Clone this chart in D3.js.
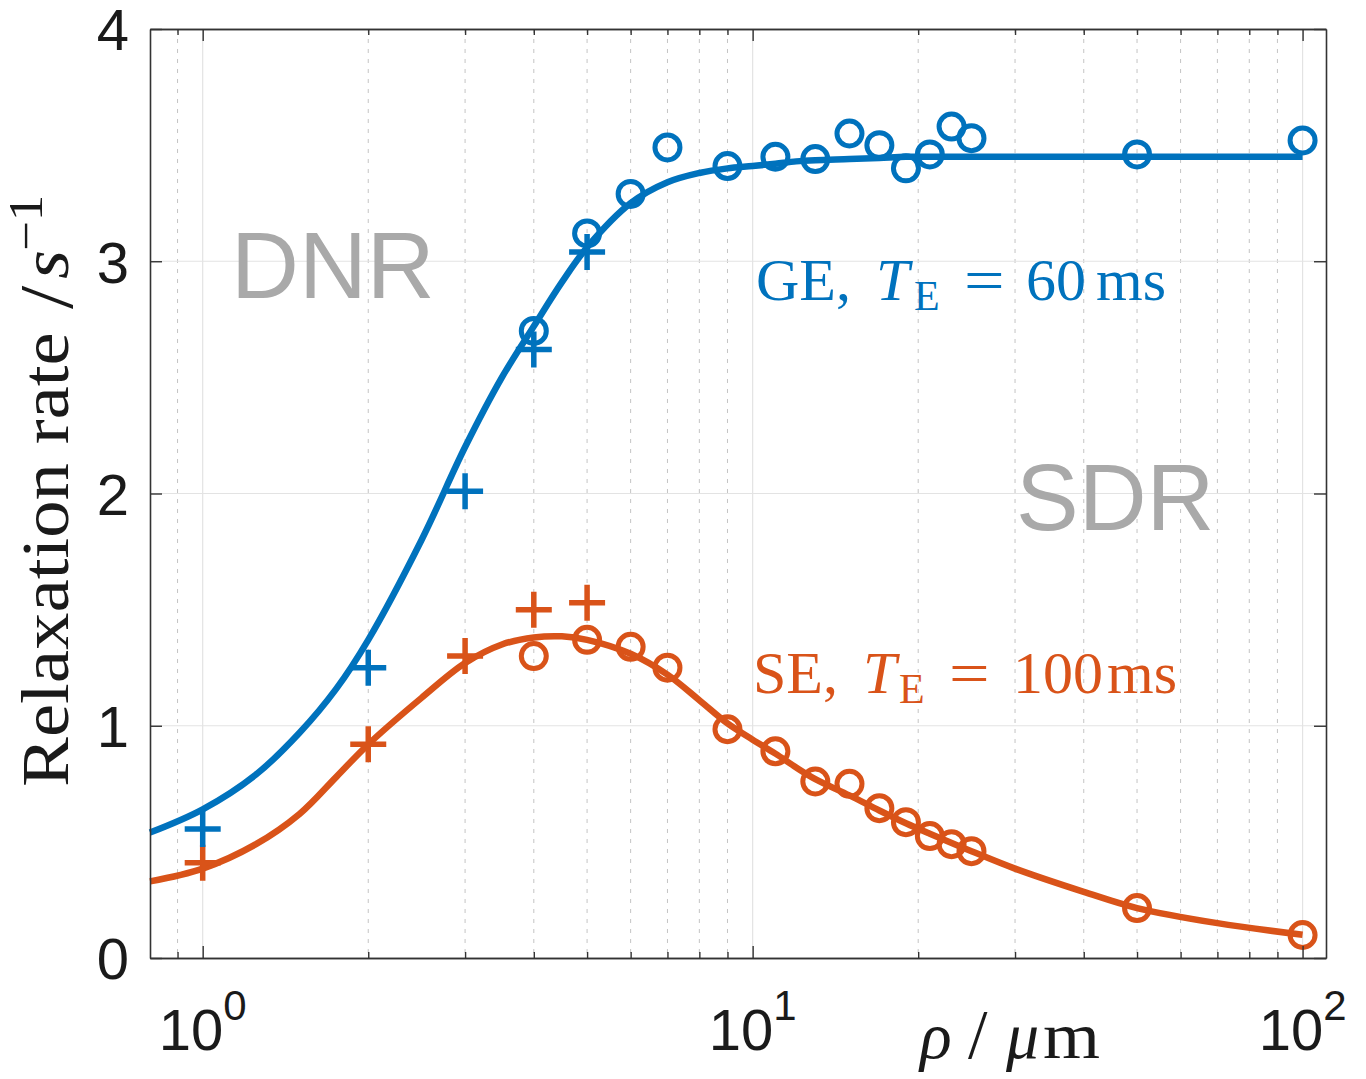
<!DOCTYPE html>
<html lang="en">
<head>
<meta charset="utf-8">
<title>Relaxation rate vs rho</title>
<script src="https://d3js.org/d3.v7.min.js"></script>
<style>
  body { margin: 0; background: #fff; }
  text { font-family: "Liberation Sans", Arial, sans-serif; }
  .serif { font-family: "Liberation Serif", "DejaVu Serif", serif; }
</style>
</head>
<body>
<svg id="chart" width="1366" height="1079"></svg>
<script>
// measured points (circles)
var rhoMeas = [4, 5, 6, 7, 9, 11, 13, 15, 17, 19, 21, 23, 25, 50, 100];
var measGE = [2.70, 3.12, 3.29, 3.49, 3.41, 3.45, 3.44, 3.55, 3.50, 3.40, 3.46, 3.58, 3.53, 3.46, 3.52];
var measSE = [1.30, 1.37, 1.34, 1.25, 0.985, 0.89, 0.76, 0.75, 0.645, 0.585, 0.525, 0.49, 0.46, 0.215, 0.099];

// simulated points (plus)
var rhoSim = [1, 2, 3, 4, 5];
var simGE = [0.555, 1.25, 2.01, 2.62, 3.04];
var simSE = [0.41, 0.92, 1.30, 1.50, 1.53];

// fitted model curves
var rhoFit = [0.802, 1, 1.25, 1.5, 1.75, 2, 2.5, 3, 3.5, 4, 4.5, 5, 6, 7, 8, 9, 10, 11, 12, 13, 15, 17, 19, 21, 25, 30, 40, 50, 70, 100];
var fitGE = [0.54, 0.64, 0.79, 0.97, 1.16, 1.37, 1.80, 2.20, 2.50, 2.72, 2.91, 3.06, 3.25, 3.34, 3.38, 3.40, 3.41, 3.42, 3.43, 3.435, 3.44, 3.445, 3.45, 3.45, 3.45, 3.45, 3.45, 3.45, 3.45, 3.45];
var fitSE = [0.33, 0.385, 0.49, 0.62, 0.78, 0.92, 1.12, 1.27, 1.35, 1.38, 1.385, 1.37, 1.31, 1.22, 1.11, 1.01, 0.94, 0.88, 0.82, 0.77, 0.70, 0.635, 0.58, 0.535, 0.46, 0.385, 0.285, 0.215, 0.15, 0.10];

var yTicks = [0, 1, 2, 3, 4];
var xMajor = [1, 10, 100];
var xMinor = [0.9, 2, 3, 4, 5, 6, 7, 8, 9, 20, 30, 40, 50, 60, 70, 80, 90];

var blue = "#0072BD", orange = "#D95319";
var L = 150, R = 1326, T = 29, B = 958;

var svg = d3.select("#chart");
var x = d3.scaleLog().domain([0.802, 110.3]).range([L, R]);
var y = d3.scaleLinear().domain([0, 4]).range([B, T]);

// grid
var grid = svg.append("g");
grid.selectAll("line.minor").data(xMinor).enter().append("line")
    .attr("x1", function(d) { return x(d); }).attr("x2", function(d) { return x(d); })
    .attr("y1", T).attr("y2", B)
    .attr("stroke", "#c4c4c4").attr("stroke-width", 1).attr("stroke-dasharray", "4,6");
grid.selectAll("line.xmaj").data(xMajor).enter().append("line")
    .attr("x1", function(d) { return x(d); }).attr("x2", function(d) { return x(d); })
    .attr("y1", T).attr("y2", B)
    .attr("stroke", "#e3e3e3").attr("stroke-width", 1.2);
grid.selectAll("line.ymaj").data(yTicks.slice(1, 4)).enter().append("line")
    .attr("x1", L).attr("x2", R)
    .attr("y1", function(d) { return y(d); }).attr("y2", function(d) { return y(d); })
    .attr("stroke", "#e3e3e3").attr("stroke-width", 1.2);

// region labels
svg.append("text").attr("x", 231).attr("y", 298).attr("font-size", 94)
    .attr("fill", "#a9a9a9").text("DNR");
svg.append("text").attr("x", 1016).attr("y", 530).attr("font-size", 94)
    .attr("fill", "#a9a9a9").text("SDR");

// fitted curves
var line = d3.line()
    .x(function(d) { return x(d[0]); })
    .y(function(d) { return y(d[1]); })
    .curve(d3.curveCatmullRom.alpha(0.5));

svg.append("path").datum(d3.zip(rhoFit, fitGE)).attr("d", line)
    .attr("fill", "none").attr("stroke", blue).attr("stroke-width", 6.5);
svg.append("path").datum(d3.zip(rhoFit, fitSE)).attr("d", line)
    .attr("fill", "none").attr("stroke", orange).attr("stroke-width", 6.5);

// markers
function circles(vals, col) {
    svg.append("g").selectAll("circle").data(d3.zip(rhoMeas, vals)).enter().append("circle")
        .attr("cx", function(d) { return x(d[0]); })
        .attr("cy", function(d) { return y(d[1]); })
        .attr("r", 12.5)
        .attr("fill", "none").attr("stroke", col).attr("stroke-width", 5);
}
function pluses(vals, col) {
    svg.append("g").selectAll("path").data(d3.zip(rhoSim, vals)).enter().append("path")
        .attr("transform", function(d) { return "translate(" + x(d[0]) + "," + y(d[1]) + ")"; })
        .attr("d", "M-18,0H18M0,-18V18")
        .attr("fill", "none").attr("stroke", col).attr("stroke-width", 5.5);
}
pluses(simSE, orange);
pluses(simGE, blue);
circles(measSE, orange);
circles(measGE, blue);

// axes box with inward ticks
function styleAxis(g) {
    g.selectAll("path.domain").attr("stroke", "#333").attr("stroke-width", 1.6);
    g.selectAll(".tick line").attr("stroke", "#333").attr("stroke-width", 1.4);
}
svg.append("g").attr("transform", "translate(0," + B + ")")
    .call(d3.axisBottom(x).tickValues(xMajor).tickSize(-12).tickSizeOuter(0).tickFormat(""))
    .call(styleAxis);
svg.append("g").attr("transform", "translate(0," + B + ")")
    .call(d3.axisBottom(x).tickValues(xMinor).tickSize(-6).tickSizeOuter(0).tickFormat(""))
    .call(styleAxis);
svg.append("g").attr("transform", "translate(0," + T + ")")
    .call(d3.axisTop(x).tickValues(xMajor).tickSize(-12).tickSizeOuter(0).tickFormat(""))
    .call(styleAxis);
svg.append("g").attr("transform", "translate(0," + T + ")")
    .call(d3.axisTop(x).tickValues(xMinor).tickSize(-6).tickSizeOuter(0).tickFormat(""))
    .call(styleAxis);
svg.append("g").attr("transform", "translate(" + R + ",0)")
    .call(d3.axisRight(y).tickValues(yTicks).tickSize(-12).tickSizeOuter(0).tickFormat(""))
    .call(styleAxis);
var yAxis = svg.append("g").attr("transform", "translate(" + L + ",0)")
    .call(d3.axisLeft(y).tickValues(yTicks).tickSize(-12).tickSizeOuter(0).tickPadding(21).tickFormat(d3.format("d")))
    .call(styleAxis);
yAxis.selectAll(".tick text")
    .attr("font-family", "Liberation Sans, Arial, sans-serif")
    .attr("font-size", 58).attr("fill", "#1a1a1a").attr("dy", "0.36em");

// x tick labels 10^n
var xl = svg.append("g").selectAll("text").data(xMajor).enter().append("text")
    .attr("x", function(d) { return x(d); }).attr("y", 1050)
    .attr("text-anchor", "middle").attr("font-size", 58).attr("fill", "#1a1a1a");
xl.append("tspan").text("10");
xl.append("tspan").attr("dy", -30).attr("font-size", 42)
    .text(function(d) { return Math.round(Math.log10(d)); });

function piece(g, str, px, py, size, italic) {
    var t = g.append("text").attr("class", "serif").attr("x", px).attr("y", py)
        .attr("font-size", size).text(str);
    if (italic) t.attr("font-style", "italic");
    return t;
}

// y axis title: glyphs widened a little to match the wide serif of the original
var sx = 1.1;
var yg = svg.append("g").attr("transform", "translate(68,787) rotate(-90) scale(" + sx + ",1)")
    .attr("fill", "#1a1a1a");
piece(yg, "Relaxation rate", 0, 0, 68);
piece(yg, "/", 478 / sx, 4, 76);
piece(yg, "s", 508 / sx, 0, 68, true);
piece(yg, "\u22121", 536 / sx, -26, 48);

// x axis title
var xg = svg.append("g").attr("fill", "#1a1a1a");
piece(xg, "\u03C1", 920, 1058, 66, true);
piece(xg, "/", 968, 1058, 70);
piece(xg, "\u03BC", 1006, 1058, 66, true);
piece(xg, "m", 1043, 1058, 66).attr("textLength", 57).attr("lengthAdjust", "spacingAndGlyphs");

// curve labels
function curveLabel(x0, y0, col, name, num, pos) {
    var g = svg.append("g").attr("fill", col);
    piece(g, name + ",", x0, y0, 60);
    piece(g, "T", x0 + pos[0], y0, 60, true);
    piece(g, "E", x0 + pos[1], y0 + 10, 42);
    var ex = x0 + pos[2];
    piece(g, "=", ex, y0, 60)
        .attr("transform", "translate(" + ex + "," + y0 + ") scale(1.2,1) translate(" + (-ex) + "," + (-y0) + ")");
    piece(g, num, x0 + pos[3], y0, 60);
    piece(g, "ms", x0 + pos[4], y0, 60);
}
curveLabel(756, 300, blue, "GE", "60", [120, 158, 208, 270, 340]);
curveLabel(753, 693, orange, "SE", "100", [110, 146, 196, 260, 354]);
</script>
</body>
</html>
